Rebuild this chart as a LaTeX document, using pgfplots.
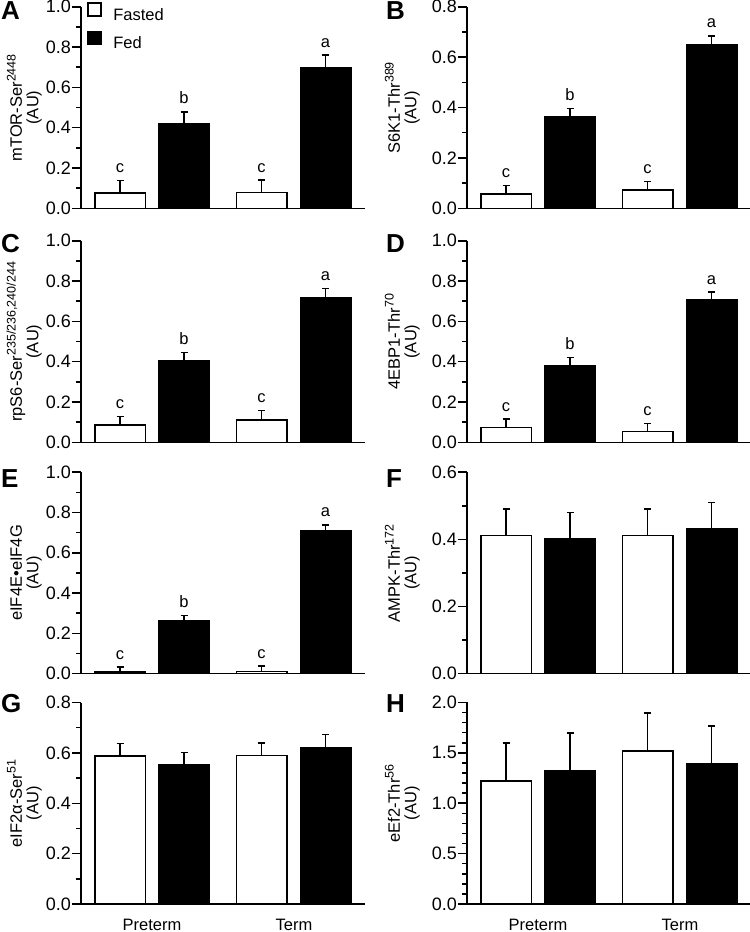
\documentclass[border=0pt]{standalone}
\usepackage{fontspec}
\setmainfont{Liberation Sans}
\usepackage{pgfplots}
\usepackage{pgfplotstable}
\pgfplotsset{compat=1.18}
\newcommand{\fs}[1]{\fontsize{#1bp}{#1bp}\selectfont}
\newcommand{\sups}[1]{\textsuperscript{\fontsize{12.5bp}{12.5bp}\selectfont #1}}

\pgfplotsset{
  panel/.style={
    scale only axis, width=284bp, height=201.5bp,
    xmin=0, xmax=284, ymin=0,
    axis lines=left, axis line style={-, line width=1.5bp, black},
    clip=false,
    tick align=outside,
    major tick length=9bp, minor tick length=5bp,
    tick style={black, line width=1.5bp},
    xtick=\empty,
    ytick pos=left,
    scaled y ticks=false,
    minor y tick num=1,
    yticklabel style={font=\fs{18}, inner sep=1bp,
      /pgf/number format/fixed, /pgf/number format/fixed zerofill,
      /pgf/number format/precision=1, /pgf/number format/assume math mode=true},
    ylabel style={font=\fs{16.5}, align=center, inner sep=0pt, anchor=south,
      at={(axis description cs:-0.1373,0.5)}},
  },
  rpanel/.style={panel, width=283bp, xmax=283,
    ylabel style={at={(axis description cs:-0.1661,0.5)}}},
  bottomrow/.style={xtick={71,213}, xticklabels={Preterm,Term},
    xtick style={draw=none}, xticklabel style={font=\fs{16.5}, yshift=-2.5bp}},
  barbase/.style={ybar, bar width=50.5, bar shift=0pt, draw=black, line width=1.5bp, forget plot,
    error bars/.cd, y dir=plus, y explicit,
    error bar style={line width=1.5bp, black},
    error mark options={rotate=90, black, line width=1.5bp, mark size=3.5bp}},
  fasted/.style={fill=white, barbase},
  fed/.style={fill=black, barbase},
  letters/.style={draw=none, forget plot, nodes near coords, point meta=explicit symbolic,
    nodes near coords style={anchor=south, inner sep=0pt, yshift=7.5bp, font=\fs{16.5}, black}},
}

% x: bar centre (axis units = px from y axis), y: mean, e: error (up), lab: letter
\pgfplotstableread{
x y e lab
39 0.077 0.060 c
180.5 0.079 0.061 c
}\Afast
\pgfplotstableread{
x y e lab
103 0.420 0.059 b
244.5 0.697 0.063 a
}\Afed
\pgfplotstableread{
x y e lab
39 0.056 0.034 c
180.5 0.073 0.034 c
}\Bfast
\pgfplotstableread{
x y e lab
103 0.364 0.033 b
244.5 0.651 0.034 a
}\Bfed
\pgfplotstableread{
x y e lab
39 0.086 0.043 c
180.5 0.111 0.046 c
}\Cfast
\pgfplotstableread{
x y e lab
103 0.403 0.043 b
244.5 0.719 0.043 a
}\Cfed
\pgfplotstableread{
x y e lab
39 0.074 0.042 c
180.5 0.053 0.041 c
}\Dfast
\pgfplotstableread{
x y e lab
103 0.382 0.039 b
244.5 0.706 0.039 a
}\Dfed
\pgfplotstableread{
x y e lab
39 0.008 0.025 c
180.5 0.010 0.028 c
}\Efast
\pgfplotstableread{
x y e lab
103 0.263 0.025 b
244.5 0.711 0.028 a
}\Efed
\pgfplotstableread{
x y e
39 0.411 0.079
180.5 0.411 0.079
}\Ffast
\pgfplotstableread{
x y e
103 0.401 0.079
244.5 0.433 0.077
}\Ffed
\pgfplotstableread{
x y e
39 0.587 0.051
180.5 0.589 0.050
}\Gfast
\pgfplotstableread{
x y e
103 0.552 0.049
244.5 0.622 0.051
}\Gfed
\pgfplotstableread{
x y e
39 1.223 0.374
180.5 1.517 0.377
}\Hfast
\pgfplotstableread{
x y e
103 1.326 0.370
244.5 1.395 0.374
}\Hfed

\begin{document}
\begin{tikzpicture}
\path[use as bounding box] (0,0) rectangle (750bp,932bp);

% ---------- A ----------
\begin{axis}[panel, at={(81bp,723.7bp)}, anchor=south west,
  ymax=1.0, ytick={0,0.2,...,1.0},
  ylabel={mTOR-Ser\sups{2448}\\(AU)},
  legend style={draw=none, fill=none, inner sep=0pt, outer sep=0pt,
    at={(axis description cs:0.022,1.0236)}, anchor=north west,
    font=\fs{16.5}, row sep=8.5bp, nodes={inner sep=0pt},
    /tikz/every odd column/.append style={column sep=11.5bp}},
  legend cell align=left]
\addplot[fasted] table[x=x,y=y,y error=e]{\Afast};
\addplot[fed] table[x=x,y=y,y error=e]{\Afed};
\addplot[letters] table[x=x,y expr=\thisrow{y}+\thisrow{e},meta=lab]{\Afast};
\addplot[letters] table[x=x,y expr=\thisrow{y}+\thisrow{e},meta=lab]{\Afed};
\addlegendimage{legend image code/.code={\draw[black, fill=white, line width=1.5bp] (0bp,-0.5bp) rectangle (13bp,12.5bp);}}
\addlegendentry{Fasted}
\addlegendimage{legend image code/.code={\draw[black, fill=black, line width=1.5bp] (0bp,-0.5bp) rectangle (13bp,12.5bp);}}
\addlegendentry{Fed}
\end{axis}

% ---------- B ----------
\begin{axis}[rpanel, at={(467bp,723.7bp)}, anchor=south west,
  ymax=0.8, ytick={0,0.2,...,0.8},
  ylabel={S6K1-Thr\sups{389}\\(AU)}]
\addplot[fasted] table[x=x,y=y,y error=e]{\Bfast};
\addplot[fed] table[x=x,y=y,y error=e]{\Bfed};
\addplot[letters] table[x=x,y expr=\thisrow{y}+\thisrow{e},meta=lab]{\Bfast};
\addplot[letters] table[x=x,y expr=\thisrow{y}+\thisrow{e},meta=lab]{\Bfed};
\end{axis}

% ---------- C ----------
\begin{axis}[panel, at={(81bp,489.7bp)}, anchor=south west,
  ymax=1.0, ytick={0,0.2,...,1.0},
  ylabel={rpS6-Ser\sups{235/236,240/244}\\(AU)}]
\addplot[fasted] table[x=x,y=y,y error=e]{\Cfast};
\addplot[fed] table[x=x,y=y,y error=e]{\Cfed};
\addplot[letters] table[x=x,y expr=\thisrow{y}+\thisrow{e},meta=lab]{\Cfast};
\addplot[letters] table[x=x,y expr=\thisrow{y}+\thisrow{e},meta=lab]{\Cfed};
\end{axis}

% ---------- D ----------
\begin{axis}[rpanel, at={(467bp,489.7bp)}, anchor=south west,
  ymax=1.0, ytick={0,0.2,...,1.0},
  ylabel={4EBP1-Thr\sups{70}\\(AU)}]
\addplot[fasted] table[x=x,y=y,y error=e]{\Dfast};
\addplot[fed] table[x=x,y=y,y error=e]{\Dfed};
\addplot[letters] table[x=x,y expr=\thisrow{y}+\thisrow{e},meta=lab]{\Dfast};
\addplot[letters] table[x=x,y expr=\thisrow{y}+\thisrow{e},meta=lab]{\Dfed};
\end{axis}

% ---------- E ----------
\begin{axis}[panel, at={(81bp,258.3bp)}, anchor=south west,
  ymax=1.0, ytick={0,0.2,...,1.0},
  ylabel={eIF4E•eIF4G\\(AU)}]
\addplot[fasted] table[x=x,y=y,y error=e]{\Efast};
\addplot[fed] table[x=x,y=y,y error=e]{\Efed};
\addplot[letters] table[x=x,y expr=\thisrow{y}+\thisrow{e},meta=lab]{\Efast};
\addplot[letters] table[x=x,y expr=\thisrow{y}+\thisrow{e},meta=lab]{\Efed};
\end{axis}

% ---------- F ----------
\begin{axis}[rpanel, at={(467bp,258.3bp)}, anchor=south west,
  ymax=0.6, ytick={0,0.2,0.4,0.6},
  ylabel={AMPK-Thr\sups{172}\\(AU)}]
\addplot[fasted] table[x=x,y=y,y error=e]{\Ffast};
\addplot[fed] table[x=x,y=y,y error=e]{\Ffed};
\end{axis}

% ---------- G ----------
\begin{axis}[panel, bottomrow, at={(81bp,28bp)}, anchor=south west,
  ymax=0.8, ytick={0,0.2,...,0.8},
  ylabel={eIF2α-Ser\sups{51}\\(AU)}]
\addplot[fasted] table[x=x,y=y,y error=e]{\Gfast};
\addplot[fed] table[x=x,y=y,y error=e]{\Gfed};
\end{axis}

% ---------- H ----------
\begin{axis}[rpanel, bottomrow, at={(467bp,28bp)}, anchor=south west,
  ymax=2.0, ytick={0,0.5,...,2.0}, minor y tick num=4,
  ylabel={eEf2-Thr\sups{56}\\(AU)}]
\addplot[fasted] table[x=x,y=y,y error=e]{\Hfast};
\addplot[fed] table[x=x,y=y,y error=e]{\Hfed};
\end{axis}

% panel letters
\node[anchor=base west, inner sep=0pt, font=\fs{26}\bfseries] at (1bp,912bp) {A};
\node[anchor=base west, inner sep=0pt, font=\fs{26}\bfseries] at (386bp,912bp) {B};
\node[anchor=base west, inner sep=0pt, font=\fs{26}\bfseries] at (1bp,679bp) {C};
\node[anchor=base west, inner sep=0pt, font=\fs{26}\bfseries] at (386bp,679bp) {D};
\node[anchor=base west, inner sep=0pt, font=\fs{26}\bfseries] at (1bp,444bp) {E};
\node[anchor=base west, inner sep=0pt, font=\fs{26}\bfseries] at (386bp,444bp) {F};
\node[anchor=base west, inner sep=0pt, font=\fs{26}\bfseries] at (1bp,219bp) {G};
\node[anchor=base west, inner sep=0pt, font=\fs{26}\bfseries] at (386bp,219bp) {H};
\end{tikzpicture}
\end{document}
